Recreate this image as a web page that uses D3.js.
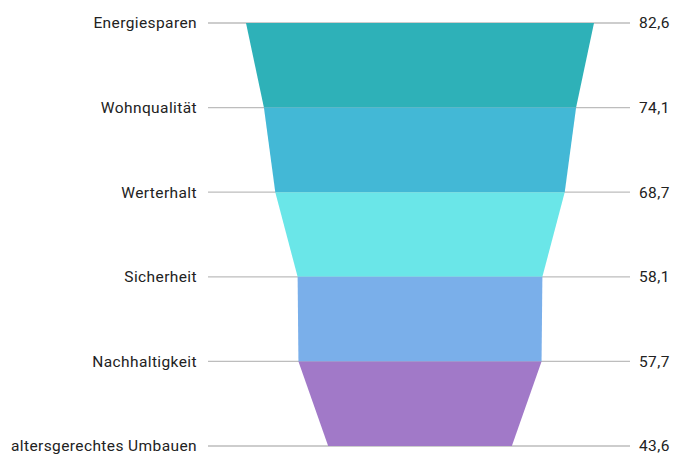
<!DOCTYPE html>
<html>
<head>
<meta charset="utf-8">
<script src="https://cdn.jsdelivr.net/npm/d3@7"></script>
<style>
  body { margin: 0; background: #fff; }
  text { font-family: Roboto, "Noto Sans", sans-serif; font-size: 15.5px; letter-spacing: 0.4px; fill: #222; }
</style>
</head>
<body>
<div id="chart"></div>
<script>
var categories = ["Energiesparen", "Wohnqualität", "Werterhalt", "Sicherheit", "Nachhaltigkeit", "altersgerechtes Umbauen"]
var values = [82.6, 74.1, 68.7, 58.1, 57.7, 43.6]
var valueLabels = ["82,6", "74,1", "68,7", "58,1", "57,7", "43,6"]
var colors = ["#2eb1b8", "#43b8d6", "#6ae6e8", "#7aafea", "#a179c8"]

var width = 673, height = 454
var cx = 420

var svg = d3.select("#chart").append("svg")
  .attr("width", width)
  .attr("height", height)

var y = d3.scalePoint().domain(categories).range([23, 446])

// half width of funnel at each level
var w = d3.scaleLinear().domain([0, d3.max(values)]).range([0, 174])

// grid lines behind the funnel
svg.append("g").selectAll("line")
  .data(categories)
  .join("line")
  .attr("x1", 208)
  .attr("x2", 630)
  .attr("y1", d => y(d))
  .attr("y2", d => y(d))
  .attr("stroke", "#bdbdbd")
  .attr("stroke-width", 1.3)

var segs = d3.range(values.length - 1)

svg.append("g").selectAll("path")
  .data(segs)
  .join("path")
  .attr("fill", i => colors[i])
  .attr("d", i => {
    var y0 = y(categories[i]), y1 = y(categories[i + 1])
    var a = w(values[i]), b = w(values[i + 1])
    return d3.line()([[cx - a, y0], [cx + a, y0], [cx + b, y1], [cx - b, y1]]) + "Z"
  })

svg.append("g").selectAll("text")
  .data(categories)
  .join("text")
  .attr("x", 197)
  .attr("y", d => y(d))
  .attr("dy", "0.35em")
  .attr("text-anchor", "end")
  .text(d => d)

svg.append("g").selectAll("text")
  .data(valueLabels)
  .join("text")
  .attr("x", 639)
  .attr("y", (d, i) => y(categories[i]))
  .attr("dy", "0.35em")
  .text(d => d)
</script>
</body>
</html>
